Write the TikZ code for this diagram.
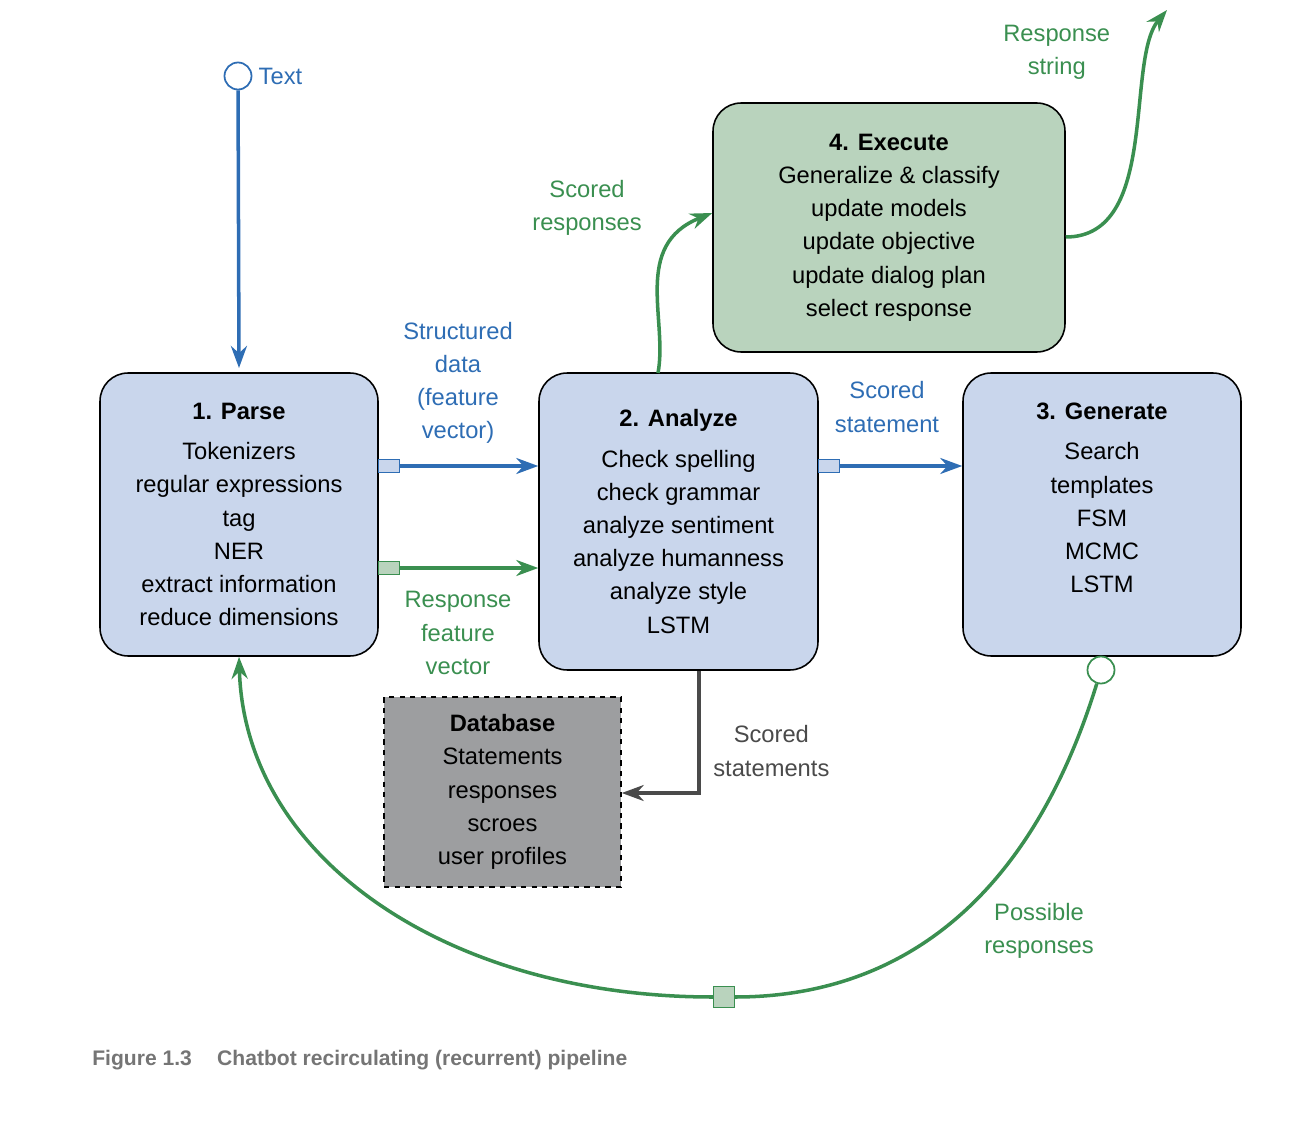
\documentclass[tikz,border=0pt]{standalone}
\usepackage{fontspec}
\setmainfont{Liberation Sans}
\usetikzlibrary{arrows.meta,positioning}
\definecolor{pblue}{HTML}{2E6DB4}
\definecolor{pgreen}{HTML}{3A8F50}
\definecolor{boxblue}{HTML}{C9D6EC}
\definecolor{boxgreen}{HTML}{B9D3BD}
\definecolor{boxgray}{HTML}{9D9EA0}
\definecolor{darkline}{HTML}{4A4A4A}
\definecolor{capgray}{HTML}{757575}
\tikzset{
  stagebox/.style={draw=black, line width=0.9pt, rounded corners=0.56cm, align=center, inner sep=0pt},
  bluebox/.style={stagebox, fill=boxblue, minimum width=5.56cm},
  port/.style={draw, line width=0.7pt, minimum width=0.42cm, minimum height=0.26cm, inner sep=0pt},
  flow/.style={line width=2pt, -{Stealth[length=0.44cm,width=0.32cm]}},
  lbl/.style={align=center, inner sep=0pt}
}
\begin{document}
\begin{tikzpicture}[x=0.02cm,y=-0.02cm,font=\fontsize{13.5}{18.9}\selectfont]
\useasboundingbox (0,0) rectangle (1296,1142);
% stages
\node[bluebox, minimum height=5.66cm] (parse) at (239,514.5)
  {\textbf{1. Parse}\\[4pt] Tokenizers\\ regular expressions\\ tag\\ NER\\ extract information\\ reduce dimensions};
\node[bluebox, minimum width=5.58cm, minimum height=5.94cm] (analyze) at (678.5,521.5)
  {\textbf{2. Analyze}\\[4pt] Check spelling\\ check grammar\\ analyze sentiment\\ analyze humanness\\ analyze style\\ LSTM};
\node[bluebox, minimum height=5.66cm] (generate) at (1102,514.5)
  {\textbf{3. Generate}\\[4pt] Search\\ templates\\ FSM\\ MCMC\\ LSTM\\ \mbox{}};
\node[stagebox, fill=boxgreen, minimum width=7.04cm, minimum height=4.98cm] (execute) at (889,227.5)
  {\textbf{4. Execute}\\ Generalize \& classify\\ update models\\ update objective\\ update dialog plan\\ select response};
\node[draw=black, dashed, line width=0.9pt, fill=boxgray, align=center, minimum width=4.74cm, minimum height=3.8cm, inner sep=0pt] (db) at (502.5,792)
  {\textbf{Database}\\ Statements\\ responses\\ scroes\\ user profiles};
% input
\node[draw=pblue, fill=white, circle, line width=1pt, minimum size=0.54cm, inner sep=0pt] (txtin) at (238,76) {};
\node[lbl, text=pblue, right=0.12cm of txtin] (txtlbl) {Text};
\draw[flow, pblue] (txtin) -- (parse.north |- 0,368);
% ports
\node[port, draw=pblue, fill=boxblue] (p1) at (389,466) {};
\node[port, draw=pgreen, fill=boxgreen] (p2) at (389,568) {};
\node[port, draw=pblue, fill=boxblue] (p3) at (829,466) {};
\draw[flow, pblue] (p1) -- (analyze.west |- p1);
\draw[flow, pgreen] (p2) -- (analyze.west |- p2);
\draw[flow, pblue] (p3) -- (generate.west |- p3);
% scored responses and response string
\draw[flow, pgreen] (658,373) .. controls (668,320) and (632,245) .. (execute.west |- 0,213);
\draw[flow, pgreen] (execute.east |- 0,237) .. controls (1160,237) and (1125,60) .. (1167,10);
% database
\draw[line width=2pt, darkline, -{Stealth[length=0.44cm,width=0.32cm]}] (analyze.south -| 699,0) |- (db.east |- 0,793);
% recirculation
\node[draw=pgreen, fill=white, circle, line width=1pt, minimum size=0.54cm, inner sep=0pt] (gout) at (1101,670) {};
\node[port, draw=pgreen, fill=boxgreen, minimum width=0.42cm, minimum height=0.42cm] (loop) at (724,997) {};
\draw[line width=2pt, pgreen] (gout) .. controls (1030,900) and (900,997) .. (loop);
\draw[flow, pgreen] (loop) .. controls (450,997) and (245,860) .. (parse.south);
% labels
\node[lbl, text=pblue] (l1) at (458,383) {Structured\\ data\\ (feature\\ vector)};
\node[lbl, text=pgreen] (l2) at (458,633) {Response\\ feature\\ vector};
\node[lbl, text=pblue] (l3) at (887,407) {Scored\\ statement};
\node[lbl, text=pgreen, anchor=west] (l4) at (532,208) {Scored\\ responses};
\node[lbl, text=pgreen, anchor=west] (l5) at (1003,52) {Response\\ string};
\node[lbl, text=darkline, anchor=west] (l6) at (713,751) {Scored\\ statements};
\node[lbl, text=pgreen] (l7) at (1039,931) {Possible\\ responses};
% caption
\node[lbl, anchor=west, text=capgray, font=\fontsize{12}{14}\selectfont\bfseries] (cap) at (92,1060)
  {Figure 1.3\hspace{1.2em}Chatbot recirculating (recurrent) pipeline};
\end{tikzpicture}
\end{document}
